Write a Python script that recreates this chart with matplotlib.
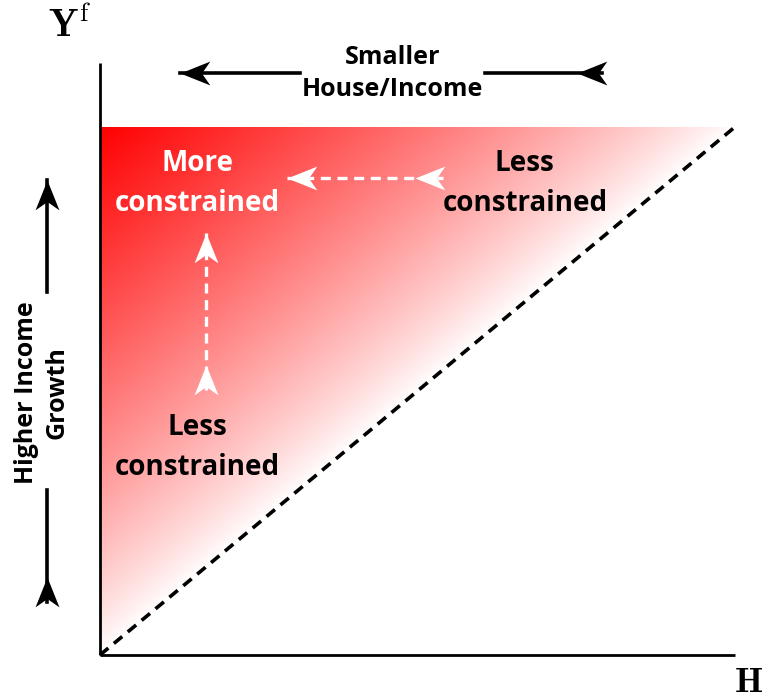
import matplotlib.pyplot as plt
import numpy as np
from matplotlib.markers import MarkerStyle
from matplotlib.path import Path
from matplotlib.patches import Polygon
from matplotlib.transforms import Affine2D

plt.rcParams["mathtext.fontset"] = "cm"
plt.rcParams["font.family"] = ["Open Sans", "DejaVu Sans"]

# diagram geometry, in axis units (H along x, Y^f along y)
top = 0.892
region_x = [0, 0, 1]
region_y = [0, top, top]
diag_x = [0, 1]
diag_y = [0, top]

# arrows: line ends plus where the second (tail) head sits
top_arrow_y = 0.983
top_arrow_left = [0.126, 0.315]
top_arrow_right = [0.606, 0.791]
top_arrow_tail_tip = 0.751

side_arrow_x = -0.083
side_arrow_upper = [0.802, 0.613]
side_arrow_lower = [0.279, 0.0895]
side_arrow_tail_tip = 0.132

h_dash_y = 0.806
h_dash_x = [0.294, 0.540]
h_dash_tail_tip = 0.496

v_dash_x = 0.167
v_dash_y = [0.713, 0.448]
v_dash_tail_tip = 0.490

# stealth-like arrow head pointing along +x, tip at origin
head_path = Path([(0, 0), (-1, 0.4), (-0.72, 0), (-1, -0.4), (0, 0)],
                 [Path.MOVETO, Path.LINETO, Path.LINETO, Path.LINETO, Path.CLOSEPOLY])


def head(ax, x, y, angle, color):
    m = MarkerStyle(head_path, transform=Affine2D().rotate_deg(angle))
    ax.plot([x], [y], marker=m, markersize=43, color=color,
            markeredgewidth=0, linestyle="none", zorder=5, clip_on=False)


fig = plt.figure(figsize=(7.7, 7), dpi=100)
ax = fig.add_axes([0, 0, 1, 1])
ax.set_xlim(-100 / 635, 670 / 635)
ax.set_ylim(-45 / 592, 655 / 592)
ax.axis("off")

# red gradient, strongest at the top-left corner, fading to the diagonal
gx, gy = np.meshgrid(np.linspace(0, 1, 600), np.linspace(0, top, 600))
t = np.clip(gy / top - gx, 0, 1) ** 0.85
rgb = np.dstack([np.ones_like(t), 1 - t, 1 - t])
im = ax.imshow(rgb, extent=[0, 1, 0, top], origin="lower", aspect="auto",
               interpolation="bilinear", zorder=1)
tri = Polygon(np.column_stack([region_x, region_y]), closed=True,
              transform=ax.transData, facecolor="none", edgecolor="none")
ax.add_patch(tri)
im.set_clip_path(tri)

# axes
ax.plot([0, 1], [0, 0], color="black", lw=2, solid_capstyle="butt", zorder=4)
ax.plot([0, 0], [0, 1], color="black", lw=2, solid_capstyle="butt", zorder=4)
ax.plot(diag_x, diag_y, color="black", lw=2.6, dashes=(3, 2), zorder=3)

ax.text(-0.082, 1.044, r"$\mathbf{Y}^{\mathrm{f}}$", fontsize=28,
        ha="left", va="baseline")
ax.text(0.998, -0.063, r"$\mathbf{H}$", fontsize=26, ha="left", va="baseline")

# top arrow
ax.plot(top_arrow_left, [top_arrow_y] * 2, color="black", lw=2.6)
ax.plot(top_arrow_right, [top_arrow_y] * 2, color="black", lw=2.6)
head(ax, top_arrow_left[0], top_arrow_y, 180, "black")
head(ax, top_arrow_tail_tip, top_arrow_y, 180, "black")
ax.text(0.461, 0.982, "Smaller\nHouse/Income", fontsize=18, fontweight="bold",
        ha="center", va="center", linespacing=1.4)

# side arrow
ax.plot([side_arrow_x] * 2, side_arrow_upper, color="black", lw=2.6, clip_on=False)
ax.plot([side_arrow_x] * 2, side_arrow_lower, color="black", lw=2.6, clip_on=False)
head(ax, side_arrow_x, side_arrow_upper[0], 90, "black")
head(ax, side_arrow_x, side_arrow_tail_tip, 90, "black")
ax.text(-0.0913, 0.444, "Higher Income\nGrowth", fontsize=18, fontweight="bold",
        ha="center", va="center", rotation=90, linespacing=1.3)

# dashed white arrows
ax.plot(h_dash_x, [h_dash_y] * 2, color="white", lw=2.4, dashes=(3, 2), zorder=4)
head(ax, h_dash_x[0], h_dash_y, 180, "white")
head(ax, h_dash_tail_tip, h_dash_y, 180, "white")
ax.plot([v_dash_x] * 2, v_dash_y, color="white", lw=2.4, dashes=(3, 2), zorder=4)
head(ax, v_dash_x, v_dash_y[0], 90, "white")
head(ax, v_dash_x, v_dash_tail_tip, 90, "white")

inner = dict(fontsize=20, fontweight="bold", ha="center", va="center",
             linespacing=1.5, zorder=6)
ax.text(0.154, 0.797, "More\nconstrained", color="white", **inner)
ax.text(0.669, 0.797, "Less\nconstrained", color="black", **inner)
ax.text(0.154, 0.351, "Less\nconstrained", color="black", **inner)

fig.savefig("out.png", dpi=100)
